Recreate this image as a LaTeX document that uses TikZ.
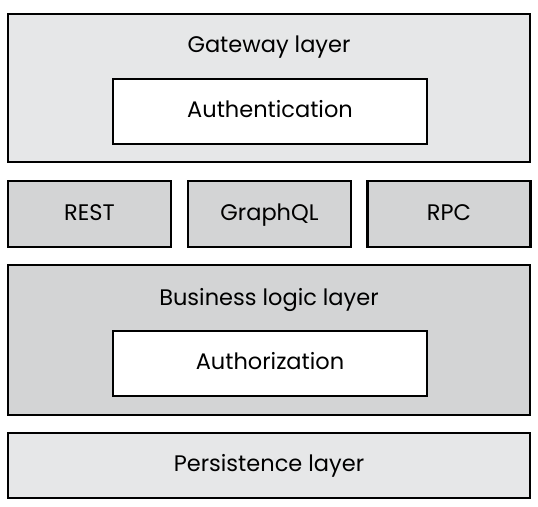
\documentclass[tikz,border=0pt]{standalone}
\usepackage{fontspec}
\setmainfont{Poppins}
\usetikzlibrary{positioning}
\definecolor{lightlayer}{HTML}{E6E7E8}
\definecolor{darklayer}{HTML}{D3D4D5}
\tikzset{
  box/.style={draw=black,line width=2.4pt,inner sep=0pt,
    font=\fontsize{22.5}{27}\selectfont,text height=16pt,text depth=4pt},
  layer/.style={box,fill=#1,minimum width=522pt},
  api/.style={box,fill=darklayer,minimum width=163pt,minimum height=66pt},
  inner/.style={box,fill=white,minimum width=314pt,minimum height=65pt},
  title/.style={anchor=base,inner sep=0pt,font=\fontsize{22.5}{27}\selectfont}
}
\begin{document}
\begin{tikzpicture}[x=1pt,y=-1pt]
\useasboundingbox (0,0) rectangle (538,506);
\node[layer=lightlayer,minimum height=148pt] (gateway) at (269,88) {};
\node[title] (gatewaytitle) at (269,52) {Gateway layer};
\node[inner] (authn) at (270,111.5) {Authentication};

\node[api] (rest) at (89.5,214) {REST};
\node[api] (graphql) at (269.5,214) {GraphQL};
\node[api] (rpc) at (449,214) {RPC};

\node[layer=darklayer,minimum height=150pt] (business) at (269,340) {};
\node[title] (businesstitle) at (269,305) {Business logic layer};
\node[inner] (authz) at (270,363.5) {Authorization};

\node[layer=lightlayer,minimum height=65pt] (persistence) at (269,465.5) {Persistence layer};
\end{tikzpicture}
\end{document}
